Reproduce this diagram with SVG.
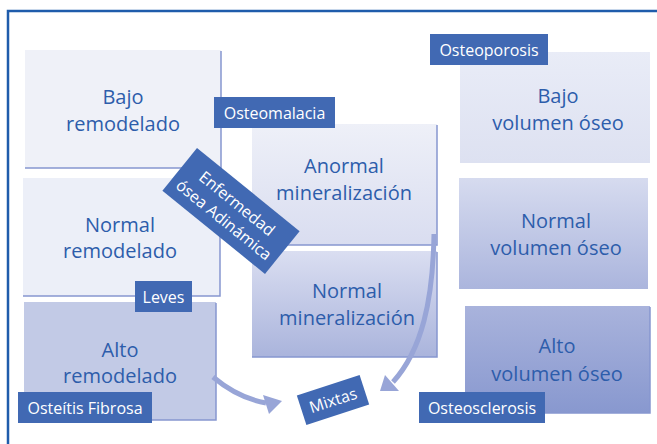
<svg xmlns="http://www.w3.org/2000/svg" width="657" height="444" viewBox="0 0 657 444">
<defs>
<style>
.t{font-family:"Open Sans","Noto Sans","Liberation Sans",sans-serif;font-size:20px;fill:#2d5dab;text-anchor:middle}
.l{font-family:"Open Sans","Noto Sans","Liberation Sans",sans-serif;font-size:16px;fill:#ffffff;text-anchor:middle}
.lb{fill:#4169b3}
.sh{fill:none;stroke:#8796cf;stroke-width:1.5}
.ar{fill:none;stroke:#98a5d7;stroke-width:5}
.ah{fill:#98a5d7}
</style>
<linearGradient id="g1" x1="0" y1="0" x2="0" y2="1"><stop offset="0" stop-color="#eef0f8"/><stop offset="1" stop-color="#d9ddf0"/></linearGradient>
<linearGradient id="g2" x1="0" y1="0" x2="0" y2="1"><stop offset="0" stop-color="#dadef1"/><stop offset="1" stop-color="#aab4dc"/></linearGradient>
<linearGradient id="g3" x1="0" y1="0" x2="0" y2="1"><stop offset="0" stop-color="#e9ecf7"/><stop offset="1" stop-color="#dde1f1"/></linearGradient>
<linearGradient id="g4" x1="0" y1="0" x2="0" y2="1"><stop offset="0" stop-color="#d6dbef"/><stop offset="1" stop-color="#abb5dd"/></linearGradient>
<linearGradient id="g5" x1="0" y1="0" x2="0" y2="1"><stop offset="0" stop-color="#a9b3dc"/><stop offset="1" stop-color="#8898cf"/></linearGradient>
</defs>
<rect width="657" height="444" fill="#ffffff"/>
<path d="M8,444 V11 H657" fill="none" stroke="#1f5cab" stroke-width="2.5"/>

<g id="bajo-remodelado">
<rect x="25" y="50" width="196" height="118" fill="#eff1f8"/>
<path class="sh" d="M221,51 V168 H25"/>
<text class="t" x="123" y="104">Bajo</text>
<text class="t" x="123" y="131">remodelado</text>
</g>
<g id="normal-remodelado">
<rect x="23" y="178" width="197" height="118" fill="#eceff8"/>
<path class="sh" d="M220,179 V296 H23"/>
<text class="t" x="120" y="232">Normal</text>
<text class="t" x="120" y="258">remodelado</text>
</g>
<g id="alto-remodelado">
<rect x="24" y="302" width="192" height="118" fill="#c2cae6"/>
<path class="sh" d="M216,303 V420 H24" stroke="#a8b3de"/>
<text class="t" x="120" y="357">Alto</text>
<text class="t" x="120" y="383">remodelado</text>
</g>
<g id="anormal-mineralizacion">
<rect x="252" y="124" width="185" height="121" fill="url(#g1)"/>
<path class="sh" d="M437,125 V245 H252"/>
<text class="t" x="344" y="173">Anormal</text>
<text class="t" x="344" y="200">mineralización</text>
</g>
<g id="normal-mineralizacion">
<rect x="252" y="251" width="185" height="106" fill="url(#g2)"/>
<path class="sh" d="M437,252 V357 H252"/>
<text class="t" x="347" y="298">Normal</text>
<text class="t" x="347" y="325">mineralización</text>
</g>
<g id="bajo-volumen">
<rect x="460" y="52" width="190" height="111" fill="url(#g3)"/>
<text class="t" x="558" y="103">Bajo</text>
<text class="t" x="558" y="130">volumen óseo</text>
</g>
<g id="normal-volumen">
<rect x="459" y="178" width="189" height="111" fill="url(#g4)"/>
<text class="t" x="556" y="228">Normal</text>
<text class="t" x="556" y="255">volumen óseo</text>
</g>
<g id="alto-volumen">
<rect x="465" y="306" width="185" height="107" fill="url(#g5)"/>
<path class="sh" d="M650,307 V413 H465" stroke="#b4bde2"/>
<text class="t" x="557" y="353">Alto</text>
<text class="t" x="557" y="381">volumen óseo</text>
</g>

<g id="connectors">
<path class="ar" d="M213,377 Q238,398 266,403"/>
<polygon class="ah" points="263,395 282,401 269,414"/>
<path class="ar" d="M434,234 C433,300 422,350 393,382"/>
<polygon class="ah" points="385,375 399,391 380,391"/>
</g>

<g id="osteomalacia">
<rect class="lb" x="214" y="97" width="121" height="31"/>
<text class="l" x="274.5" y="119">Osteomalacia</text>
</g>
<g id="osteoporosis">
<rect class="lb" x="430" y="34" width="118" height="31"/>
<text class="l" x="489" y="56">Osteoporosis</text>
</g>
<g id="leves">
<rect class="lb" x="135" y="281" width="57" height="31"/>
<text class="l" x="163.5" y="303">Leves</text>
</g>
<g id="osteitis-fibrosa">
<rect class="lb" x="18" y="392" width="134" height="31"/>
<text class="l" x="85" y="414">Osteítis Fibrosa</text>
</g>
<g id="osteosclerosis">
<rect class="lb" x="419" y="392" width="126" height="31"/>
<text class="l" x="482" y="414">Osteosclerosis</text>
</g>
<g id="mixtas" transform="translate(333,400) rotate(-18)">
<rect class="lb" x="-33" y="-15.5" width="66" height="31"/>
<text class="l" x="0" y="6">Mixtas</text>
</g>
<g id="enfermedad-adinamica" transform="translate(231,211) rotate(39)">
<rect class="lb" x="-66" y="-27.5" width="132" height="55"/>
<text class="l" x="0" y="-4">Enfermedad</text>
<text class="l" x="0" y="17">ósea Adinámica</text>
</g>
</svg>
